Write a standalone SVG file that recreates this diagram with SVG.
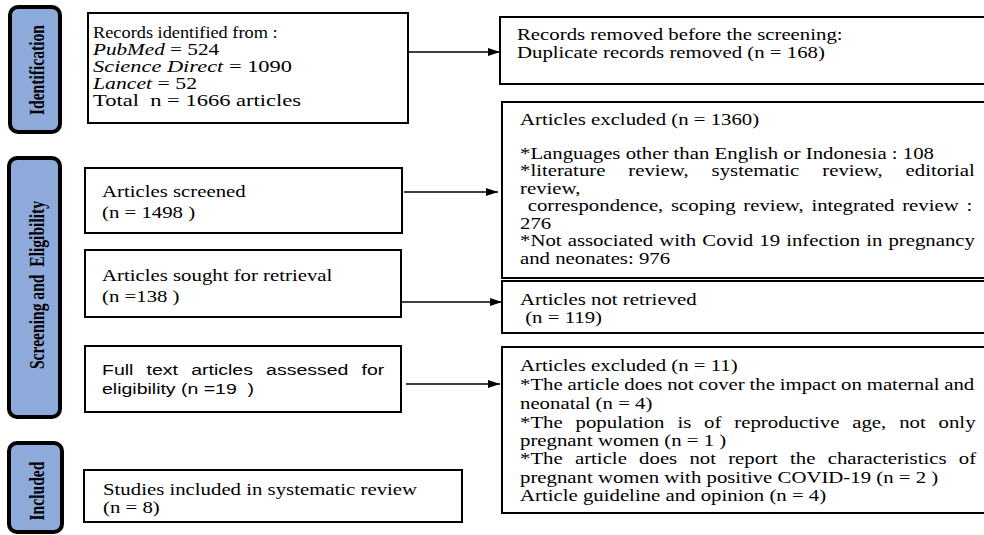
<svg xmlns="http://www.w3.org/2000/svg" width="984" height="535" viewBox="0 0 984 535">
<style>
.bg{fill:#ffffff}
.bar{fill:#8eaadb;stroke:#000;stroke-width:4}
.box{fill:#ffffff;stroke:#000;stroke-width:2}
.t{font-family:"Liberation Serif","Times New Roman",serif;font-size:16px;fill:#000}
.a{font-family:"Liberation Sans",Arial,sans-serif;font-size:15px;fill:#000}
.lab{font-family:"Liberation Serif","Times New Roman",serif;font-size:15.6px;font-weight:bold;fill:#000;text-anchor:middle}
.i{font-style:italic}
.c{stroke:#000;stroke-width:1.6;fill:none}
</style>
<defs>
<marker id="ah" markerUnits="userSpaceOnUse" markerWidth="14" markerHeight="10" refX="12" refY="4" orient="auto">
<path d="M0,0 L12,4 L0,8 z" fill="#000"/>
</marker>
</defs>
<rect class="bg" x="0" y="0" width="984" height="535"/>

<g id="bar-identification">
<rect class="bar" x="10" y="7" width="50" height="125" rx="8"/>
<text class="lab" transform="translate(44,70) scale(1.28,1) rotate(-90)">Identification</text>
</g>
<g id="bar-screening">
<rect class="bar" x="9" y="158" width="51" height="259" rx="8"/>
<text class="lab" transform="translate(44,285) scale(1.28,1) rotate(-90)" xml:space="preserve">Screening and  Eligibility</text>
</g>
<g id="bar-included">
<rect class="bar" x="9" y="443" width="53" height="89" rx="8"/>
<text class="lab" transform="translate(44,491) scale(1.28,1) rotate(-90)">Included</text>
</g>

<g id="records-identified">
<rect class="box" x="88" y="13" width="320" height="110"/>
<text class="t" transform="translate(93,38) scale(1.3,1)" textLength="142" lengthAdjust="spacingAndGlyphs">Records identified from :</text>
<text class="t" transform="translate(93,55) scale(1.3,1)" textLength="97" lengthAdjust="spacingAndGlyphs"><tspan class="i">PubMed</tspan> = 524</text>
<text class="t" transform="translate(93,72) scale(1.3,1)" textLength="153" lengthAdjust="spacingAndGlyphs"><tspan class="i">Science Direct</tspan> = 1090</text>
<text class="t" transform="translate(93,89) scale(1.3,1)" textLength="80" lengthAdjust="spacingAndGlyphs"><tspan class="i">Lancet</tspan> = 52</text>
<text class="t" transform="translate(93,106) scale(1.3,1)" textLength="160" lengthAdjust="spacingAndGlyphs">Total&#160; n = 1666 articles</text>
</g>

<g id="records-removed">
<rect class="box" x="500" y="17" width="490" height="67"/>
<text class="t" transform="translate(517,40) scale(1.3,1)">Records removed before the screening:</text>
<text class="t" transform="translate(517,58) scale(1.3,1)">Duplicate records removed (n = 168)</text>
</g>

<g id="articles-screened">
<rect class="box" x="85" y="168" width="317" height="65"/>
<text class="t" transform="translate(102,197) scale(1.3,1)">Articles screened</text>
<text class="t" transform="translate(102,218) scale(1.3,1)">(n = 1498 )</text>
</g>

<g id="articles-excluded-1360">
<rect class="box" x="502" y="102" width="488" height="176"/>
<text class="t" transform="translate(520,125) scale(1.3,1)">Articles excluded (n = 1360)</text>
<text class="t" transform="translate(520,158.5) scale(1.3,1)">*Languages other than English or Indonesia : 108</text>
<text class="t" transform="translate(520,176) scale(1.3,1)" style="word-spacing:13.6px">*literature review, systematic review, editorial</text>
<text class="t" transform="translate(520,193.5) scale(1.3,1)">review,</text>
<text class="t" transform="translate(520,211) scale(1.3,1)" style="word-spacing:1.9px">&#160;correspondence, scoping review, integrated review :</text>
<text class="t" transform="translate(520,228.5) scale(1.3,1)">276</text>
<text class="t" transform="translate(520,246) scale(1.3,1)" style="word-spacing:0.7px">*Not associated with Covid 19 infection in pregnancy</text>
<text class="t" transform="translate(520,263.5) scale(1.3,1)">and neonates: 976</text>
</g>

<g id="articles-sought">
<rect class="box" x="85" y="250" width="316" height="67"/>
<text class="t" transform="translate(102,281) scale(1.3,1)">Articles sought for retrieval</text>
<text class="t" transform="translate(102,302) scale(1.3,1)">(n =138 )</text>
</g>

<g id="articles-not-retrieved">
<rect class="box" x="502" y="281" width="488" height="52"/>
<text class="t" transform="translate(520,305) scale(1.3,1)">Articles not retrieved</text>
<text class="t" transform="translate(520,323) scale(1.3,1)">&#160;(n = 119)</text>
</g>

<g id="full-text-assessed">
<rect class="box" x="85" y="346" width="316" height="66"/>
<text class="a" transform="translate(102,375) scale(1.3,1)" style="word-spacing:6px">Full text articles assessed for</text>
<text class="a" transform="translate(102,394) scale(1.3,1)" xml:space="preserve">eligibility (n =19  )</text>
</g>

<g id="articles-excluded-11">
<rect class="box" x="502" y="347" width="488" height="166"/>
<text class="t" transform="translate(520,371) scale(1.3,1)">Articles excluded (n = 11)</text>
<text class="t" transform="translate(520,390) scale(1.3,1)" style="word-spacing:-0.3px">*The article does not cover the impact on maternal and</text>
<text class="t" transform="translate(520,409) scale(1.3,1)">neonatal (n = 4)</text>
<text class="t" transform="translate(520,428) scale(1.3,1)" style="word-spacing:5.9px">*The population is of reproductive age, not only</text>
<text class="t" transform="translate(520,446) scale(1.3,1)">pregnant women (n = 1 )</text>
<text class="t" transform="translate(520,464) scale(1.3,1)" style="word-spacing:5.4px">*The article does not report the characteristics of</text>
<text class="t" transform="translate(520,483) scale(1.3,1)">pregnant women with positive COVID-19 (n = 2 )</text>
<text class="t" transform="translate(520,501) scale(1.3,1)">Article guideline and opinion (n = 4)</text>
</g>

<g id="studies-included">
<rect class="box" x="84" y="470" width="378" height="52"/>
<text class="t" transform="translate(103,495) scale(1.3,1)">Studies included in systematic review</text>
<text class="t" transform="translate(103,513) scale(1.3,1)">(n = 8)</text>
</g>

<g id="connectors">
<line class="c" x1="408" y1="52" x2="500" y2="52" marker-end="url(#ah)"/>
<line class="c" x1="404" y1="192" x2="498" y2="192" marker-end="url(#ah)"/>
<line class="c" x1="401" y1="302" x2="502" y2="302" marker-end="url(#ah)"/>
<line class="c" x1="406" y1="384" x2="500" y2="384" marker-end="url(#ah)"/>
</g>
</svg>
